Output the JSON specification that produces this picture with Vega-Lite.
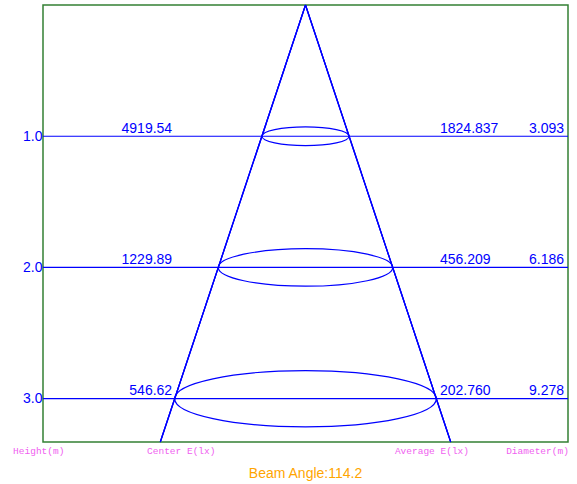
{
  "$schema": "https://vega.github.io/schema/vega-lite/v6.json",
  "width": 525,
  "height": 437,
  "autosize": {"type": "none"},
  "padding": {"left": 43, "top": 5, "right": 9, "bottom": 42},
  "title": {
    "text": "Beam Angle:114.2",
    "orient": "bottom",
    "anchor": "middle",
    "frame": "group",
    "baseline": "alphabetic",
    "offset": 22,
    "color": "#FFA500",
    "font": "Liberation Sans",
    "fontSize": 14,
    "fontWeight": "normal"
  },
  "datasets": {
    "levels": [
      {"height": 1, "centerE": 4919.54, "averageE": 1824.837, "diameter": 3.093},
      {"height": 2, "centerE": 1229.89, "averageE": 456.209, "diameter": 6.186},
      {"height": 3, "centerE": 546.62, "averageE": 202.76, "diameter": 9.278}
    ],
    "headers": [
      {"label": "Height(m)"},
      {"label": "Center E(lx)"},
      {"label": "Average E(lx)"},
      {"label": "Diameter(m)"}
    ]
  },
  "data": {"name": "levels"},
  "layer": [
    {
      "mark": {"type": "rule", "color": "#0000FF", "strokeWidth": 1.2},
      "encoding": {
        "y": {
          "field": "height",
          "type": "quantitative",
          "scale": {"domain": [0, 3.33], "reverse": true, "nice": false, "zero": true},
          "axis": {
            "values": [1, 2, 3],
            "format": ".1f",
            "ticks": false,
            "domain": false,
            "grid": false,
            "title": null,
            "labelColor": "#0000FF",
            "labelFont": "Liberation Sans",
            "labelFontSize": 14,
            "labelPadding": 1
          }
        }
      }
    },
    {
      "mark": {"type": "rule", "color": "#0000FF", "strokeWidth": 1.2},
      "encoding": {
        "x": {"datum": 0, "type": "quantitative", "scale": {"domain": [-9.31, 9.31], "nice": false, "zero": false}, "axis": null},
        "y": {"datum": 0, "type": "quantitative"},
        "x2": {"datum": -5.15},
        "y2": {"datum": 3.33}
      }
    },
    {
      "mark": {"type": "rule", "color": "#0000FF", "strokeWidth": 1.2},
      "encoding": {
        "x": {"datum": 0, "type": "quantitative"},
        "y": {"datum": 0, "type": "quantitative"},
        "x2": {"datum": 5.15},
        "y2": {"datum": 3.33}
      }
    },
    {
      "mark": {
        "type": "point",
        "shape": "M-1,0A1,0.215,0,1,0,1,0A1,0.215,0,1,0,-1,0Z",
        "filled": false,
        "stroke": "#0000FF",
        "strokeWidth": 1.2,
        "opacity": 1
      },
      "encoding": {
        "x": {"datum": 0, "type": "quantitative"},
        "y": {"field": "height", "type": "quantitative"},
        "size": {
          "field": "diameter",
          "type": "quantitative",
          "scale": {"type": "pow", "exponent": 2, "domain": [0, 10], "range": [0, 79524]},
          "legend": null
        }
      }
    },
    {
      "mark": {"type": "text", "align": "right", "baseline": "alphabetic", "dy": -3.5, "color": "#0000FF", "font": "Liberation Sans", "fontSize": 14},
      "encoding": {
        "x": {"datum": -4.73, "type": "quantitative"},
        "y": {"field": "height", "type": "quantitative"},
        "text": {"field": "centerE", "type": "quantitative", "format": ".2f"}
      }
    },
    {
      "mark": {"type": "text", "align": "left", "baseline": "alphabetic", "dy": -3.5, "color": "#0000FF", "font": "Liberation Sans", "fontSize": 14},
      "encoding": {
        "x": {"datum": 4.77, "type": "quantitative"},
        "y": {"field": "height", "type": "quantitative"},
        "text": {"field": "averageE", "type": "quantitative", "format": ".3f"}
      }
    },
    {
      "mark": {"type": "text", "align": "right", "baseline": "alphabetic", "dy": -3.5, "color": "#0000FF", "font": "Liberation Sans", "fontSize": 14},
      "encoding": {
        "x": {"datum": 9.17, "type": "quantitative"},
        "y": {"field": "height", "type": "quantitative"},
        "text": {"field": "diameter", "type": "quantitative", "format": ".3f"}
      }
    },
    {
      "data": {"name": "headers"},
      "transform": [{"filter": "datum.label == 'Height(m)'"}],
      "mark": {"type": "text", "align": "left", "baseline": "top", "dy": 4, "clip": false, "color": "#F060F0", "font": "Liberation Mono", "fontSize": 9.5},
      "encoding": {
        "x": {"datum": -10.37, "type": "quantitative"},
        "y": {"datum": 3.33, "type": "quantitative"},
        "text": {"field": "label", "type": "nominal"}
      }
    },
    {
      "data": {"name": "headers"},
      "transform": [{"filter": "datum.label == 'Center E(lx)'"}],
      "mark": {"type": "text", "align": "left", "baseline": "top", "dy": 4, "clip": false, "color": "#F060F0", "font": "Liberation Mono", "fontSize": 9.5},
      "encoding": {
        "x": {"datum": -5.62, "type": "quantitative"},
        "y": {"datum": 3.33, "type": "quantitative"},
        "text": {"field": "label", "type": "nominal"}
      }
    },
    {
      "data": {"name": "headers"},
      "transform": [{"filter": "datum.label == 'Average E(lx)'"}],
      "mark": {"type": "text", "align": "right", "baseline": "top", "dy": 4, "clip": false, "color": "#F060F0", "font": "Liberation Mono", "fontSize": 9.5},
      "encoding": {
        "x": {"datum": 5.8, "type": "quantitative"},
        "y": {"datum": 3.33, "type": "quantitative"},
        "text": {"field": "label", "type": "nominal"}
      }
    },
    {
      "data": {"name": "headers"},
      "transform": [{"filter": "datum.label == 'Diameter(m)'"}],
      "mark": {"type": "text", "align": "right", "baseline": "top", "dy": 4, "clip": false, "color": "#F060F0", "font": "Liberation Mono", "fontSize": 9.5},
      "encoding": {
        "x": {"datum": 9.34, "type": "quantitative"},
        "y": {"datum": 3.33, "type": "quantitative"},
        "text": {"field": "label", "type": "nominal"}
      }
    }
  ],
  "config": {
    "view": {"stroke": "#338033", "strokeWidth": 1.5}
  }
}
